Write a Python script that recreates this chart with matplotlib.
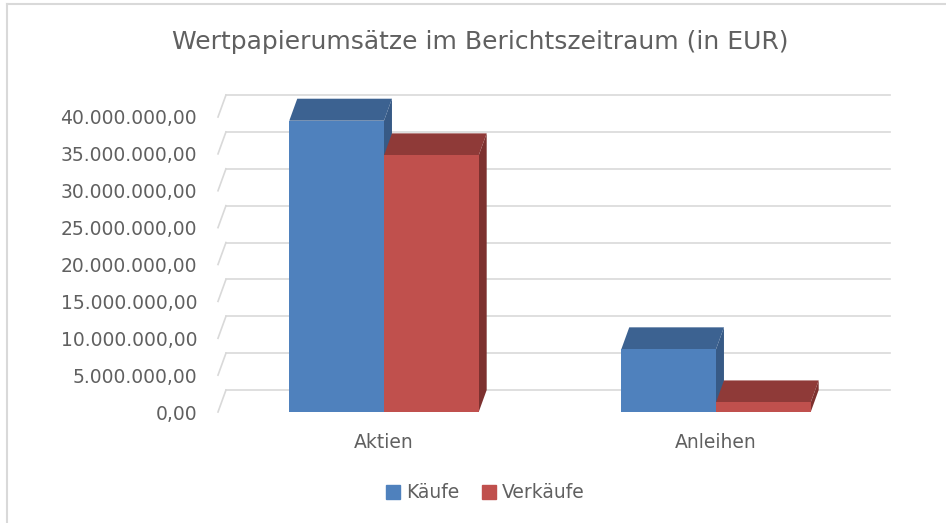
import numpy as np
import matplotlib
matplotlib.use('Agg')
import matplotlib.pyplot as plt
from matplotlib.patches import Polygon, Patch
from matplotlib.lines import Line2D
from matplotlib.ticker import FuncFormatter

# Daten
kategorien = ['Aktien', 'Anleihen']
kaeufe = [39.5e6, 8.5e6]
verkaeufe = [34.8e6, 1.3e6]
serien = ['Käufe', 'Verkäufe']
yticks = np.arange(0, 40e6 + 1, 5e6)

plt.rcParams['font.family'] = ['DejaVu Sans']
grau = '#606060'

fig = plt.figure(figsize=(9.46, 5.23), dpi=100)
ax = fig.add_axes([218/946, 1 - 412/523, 664/946, 295/523])
ax.set_xlim(-0.5, 1.5)
ax.set_ylim(0, 40e6)

w = 0.2853   # Balkenbreite
dx = 0.024   # Tiefe x
dy = 2.98e6  # Tiefe y

# Gitterlinien (Rueckwand + Seitenwand)
for v in yticks:
    ax.plot([-0.5, -0.5 + dx], [v, v + dy], color='#d9d9d9', lw=1.2, clip_on=False, zorder=0)
    ax.plot([-0.5 + dx, 1.5 + dx], [v + dy, v + dy], color='#d9d9d9', lw=1.2, clip_on=False, zorder=0)

farben = {'Käufe': ('#4F81BD', '#3C6291', '#375A86'),
          'Verkäufe': ('#C0504D', '#8F3A38', '#7D312F')}

def balken3d(x0, h, front, top, side, z):
    x1 = x0 + w
    ax.add_patch(Polygon([(x1, 0), (x1 + dx, dy), (x1 + dx, h + dy), (x1, h)],
                         closed=True, fc=side, ec='none', clip_on=False, zorder=z))
    ax.add_patch(Polygon([(x0, h), (x1, h), (x1 + dx, h + dy), (x0 + dx, h + dy)],
                         closed=True, fc=top, ec='none', clip_on=False, zorder=z))
    ax.bar(x0, h, width=w, align='edge', color=front, zorder=z, clip_on=False)

pos = np.arange(len(kategorien))
for i, p in enumerate(pos):
    balken3d(p - w, kaeufe[i], *farben['Käufe'], z=2 + i * 4)
    balken3d(p, verkaeufe[i], *farben['Verkäufe'], z=3 + i * 4)

for s in ax.spines.values():
    s.set_visible(False)
ax.set_yticks(yticks)
ax.yaxis.set_major_formatter(FuncFormatter(
    lambda v, _: '{:,.2f}'.format(v).replace(',', 'X').replace('.', ',').replace('X', '.')))
ax.set_xticks(pos)
ax.set_xticklabels(kategorien)
ax.tick_params(axis='y', length=0, pad=15, labelsize=13.5, labelcolor=grau)
ax.tick_params(axis='x', length=0, pad=15, labelsize=13.5, labelcolor=grau)

fig.suptitle('Wertpapierumsätze im Berichtszeitraum (in EUR)', x=0.508, y=1 - 42/523,
             va='center', fontsize=18, color=grau)

handles = [Patch(color=farben[s][0]) for s in serien]
fig.legend(handles, serien, loc='center', bbox_to_anchor=(0.513, 1 - 493/523), ncol=2,
           frameon=False, handlelength=0.75, handleheight=0.75, handletextpad=0.3,
           columnspacing=1.2, fontsize=13.5, labelcolor=grau)

# Rahmen
fig.add_artist(Line2D([7/946, 7/946], [0, 1 - 4/523], color='#d9d9d9', lw=1.5))
fig.add_artist(Line2D([7/946, 1], [1 - 4/523, 1 - 4/523], color='#d9d9d9', lw=1.5))

fig.savefig('out.png', dpi=100)
